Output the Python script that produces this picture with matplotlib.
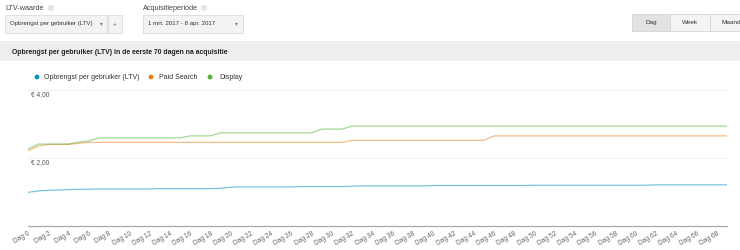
import matplotlib
matplotlib.use("Agg")
import matplotlib.pyplot as plt
from matplotlib.patches import Rectangle, Circle
import numpy as np

plt.rcParams['font.family'] = ['Liberation Sans', 'DejaVu Sans']

# ---- data ----
days = list(range(70))
ltv = [0.99, 1.03, 1.05, 1.06, 1.07, 1.08, 1.08, 1.09, 1.09, 1.09,
       1.09, 1.09, 1.09, 1.10, 1.10, 1.10, 1.10, 1.10, 1.10, 1.11,
       1.14, 1.15, 1.15, 1.15, 1.15, 1.15, 1.15, 1.16, 1.16, 1.16,
       1.16, 1.16, 1.17, 1.18, 1.18, 1.18, 1.18, 1.18, 1.18, 1.18,
       1.19, 1.19, 1.19, 1.19, 1.19, 1.19, 1.19, 1.19, 1.19, 1.19,
       1.20, 1.20, 1.20, 1.20, 1.20, 1.20, 1.20, 1.20, 1.20, 1.20,
       1.20, 1.20, 1.21, 1.21, 1.21, 1.21, 1.21, 1.21, 1.21, 1.21]
paid_search = [2.21, 2.35, 2.40, 2.40, 2.40, 2.43] + [2.46] * 26 + [2.52] * 14 + [2.65] * 24
display = [2.26, 2.41, 2.41, 2.41, 2.41, 2.47, 2.50] + [2.59] * 9 + [2.65] * 3 + [2.74] * 10 + [2.85] * 3 + [2.94] * 38
tick_days = list(range(0, 69, 2))
tick_labels = ["Dag %d" % d for d in tick_days]
y_ticks = [2.0, 4.0]
y_tick_labels = ["€ 2,00", "€ 4,00"]
series_names = ["Opbrengst per gebruiker (LTV)", "Paid Search", "Display"]
series_colors = ["#058dc7", "#ed7e17", "#50b432"]

W, H = 740, 250
fig = plt.figure(figsize=(W / 100, H / 100), dpi=100)
fig.patch.set_facecolor("white")

# overlay axes in pixel coordinates for UI elements
ui = fig.add_axes([0, 0, 1, 1], zorder=0)
ui.set_xlim(0, W)
ui.set_ylim(H, 0)
ui.axis("off")

txt = "#444444"
ui.text(5, 8, "LTV-waarde", fontsize=5.2, color=txt, va="center", ha="left")
ui.add_patch(Circle((51, 8), 2.6, facecolor="#eeeeee", edgecolor="#dddddd", lw=0.5))
ui.text(51, 8.2, "?", fontsize=3, color="#bbbbbb", ha="center", va="center")
ui.add_patch(Rectangle((5, 15), 102, 18, facecolor="#f3f3f3", edgecolor="#dcdcdc", lw=0.6))
ui.text(10, 24, "Opbrengst per gebruiker (LTV)", fontsize=4.4, color="#333333", va="center")
ui.text(101, 24, "▾", fontsize=4, color="#777777", va="center", ha="center")
ui.add_patch(Rectangle((108, 15), 14, 18, facecolor="#f3f3f3", edgecolor="#dcdcdc", lw=0.6))
ui.text(115, 24, "+", fontsize=4.5, color="#555555", va="center", ha="center")

ui.text(143, 8, "Acquisitieperiode", fontsize=5.2, color=txt, va="center", ha="left")
ui.add_patch(Circle((204, 8), 2.6, facecolor="#eeeeee", edgecolor="#dddddd", lw=0.5))
ui.text(204, 8.2, "?", fontsize=3, color="#bbbbbb", ha="center", va="center")
ui.add_patch(Rectangle((143, 15), 100, 18, facecolor="#f3f3f3", edgecolor="#dcdcdc", lw=0.6))
ui.text(148, 24, "1 mrt. 2017 - 8 apr. 2017", fontsize=4.4, color="#333333", va="center")
ui.text(236, 24, "▾", fontsize=4, color="#777777", va="center", ha="center")

# period buttons
btns = [("Dag", 632, 670, "#e2e2e2"), ("Week", 670, 710, "#f4f4f4"), ("Maand", 710, 745, "#f4f4f4")]
for label, x0, x1, fc in btns:
    ui.add_patch(Rectangle((x0, 14), x1 - x0, 17, facecolor=fc, edgecolor="#d5d5d5", lw=0.6))
    ui.text((x0 + x1) / 2 if label != "Maand" else 721, 22.5, label, fontsize=4.6,
            color="#333333", ha="center" if label != "Maand" else "left", va="center")

# grey title band
ui.add_patch(Rectangle((0, 41), W, 20, facecolor="#eeeeee", edgecolor="none"))
ui.text(12, 52, "Opbrengst per gebruiker (LTV) in de eerste 70 dagen na acquisitie",
        fontsize=4.95, fontweight="bold", color="#222222", va="center")

# legend
leg_pos = [(37, 44), (151, 159), (210, 219)]
for (dx, tx), name, col in zip(leg_pos, series_names, series_colors):
    ui.add_patch(Circle((dx, 77), 2.4, facecolor=col, edgecolor="none"))
    ui.text(tx, 77.5, name, fontsize=5.0, color="#333333", va="center")

# ---- chart axes ----
x0p, x1p = 28, 727
ytop, ybot = 90, 226
ax = fig.add_axes([x0p / W, (H - ybot) / H, (x1p - x0p) / W, (ybot - ytop) / H], zorder=1)
ax.patch.set_alpha(0)
ax.set_xlim(0, 69)
ax.set_ylim(0, 4.0)

for yt in y_ticks:
    ax.axhline(yt, color="#efefef", lw=0.7, zorder=0)
ax.axhline(0, color="#aaaaaa", lw=0.9, zorder=1, clip_on=False)

for vals, col in zip([ltv, paid_search, display], series_colors):
    ax.plot(days, vals, color=col, lw=0.85, alpha=0.55, solid_joinstyle="round")

for yt, lab in zip(y_ticks, y_tick_labels):
    ax.text(0.25, yt - 0.04, lab, fontsize=4.8, color="#555555", va="top", ha="left")

for s in ax.spines.values():
    s.set_visible(False)
ax.set_yticks([])
ax.set_xticks(tick_days)
ax.set_xticklabels(tick_labels, rotation=30, ha="right", rotation_mode="anchor",
                   fontsize=4.8, color="#666666")
ax.tick_params(axis="x", length=0, pad=3)

fig.savefig("out.png", dpi=100)
